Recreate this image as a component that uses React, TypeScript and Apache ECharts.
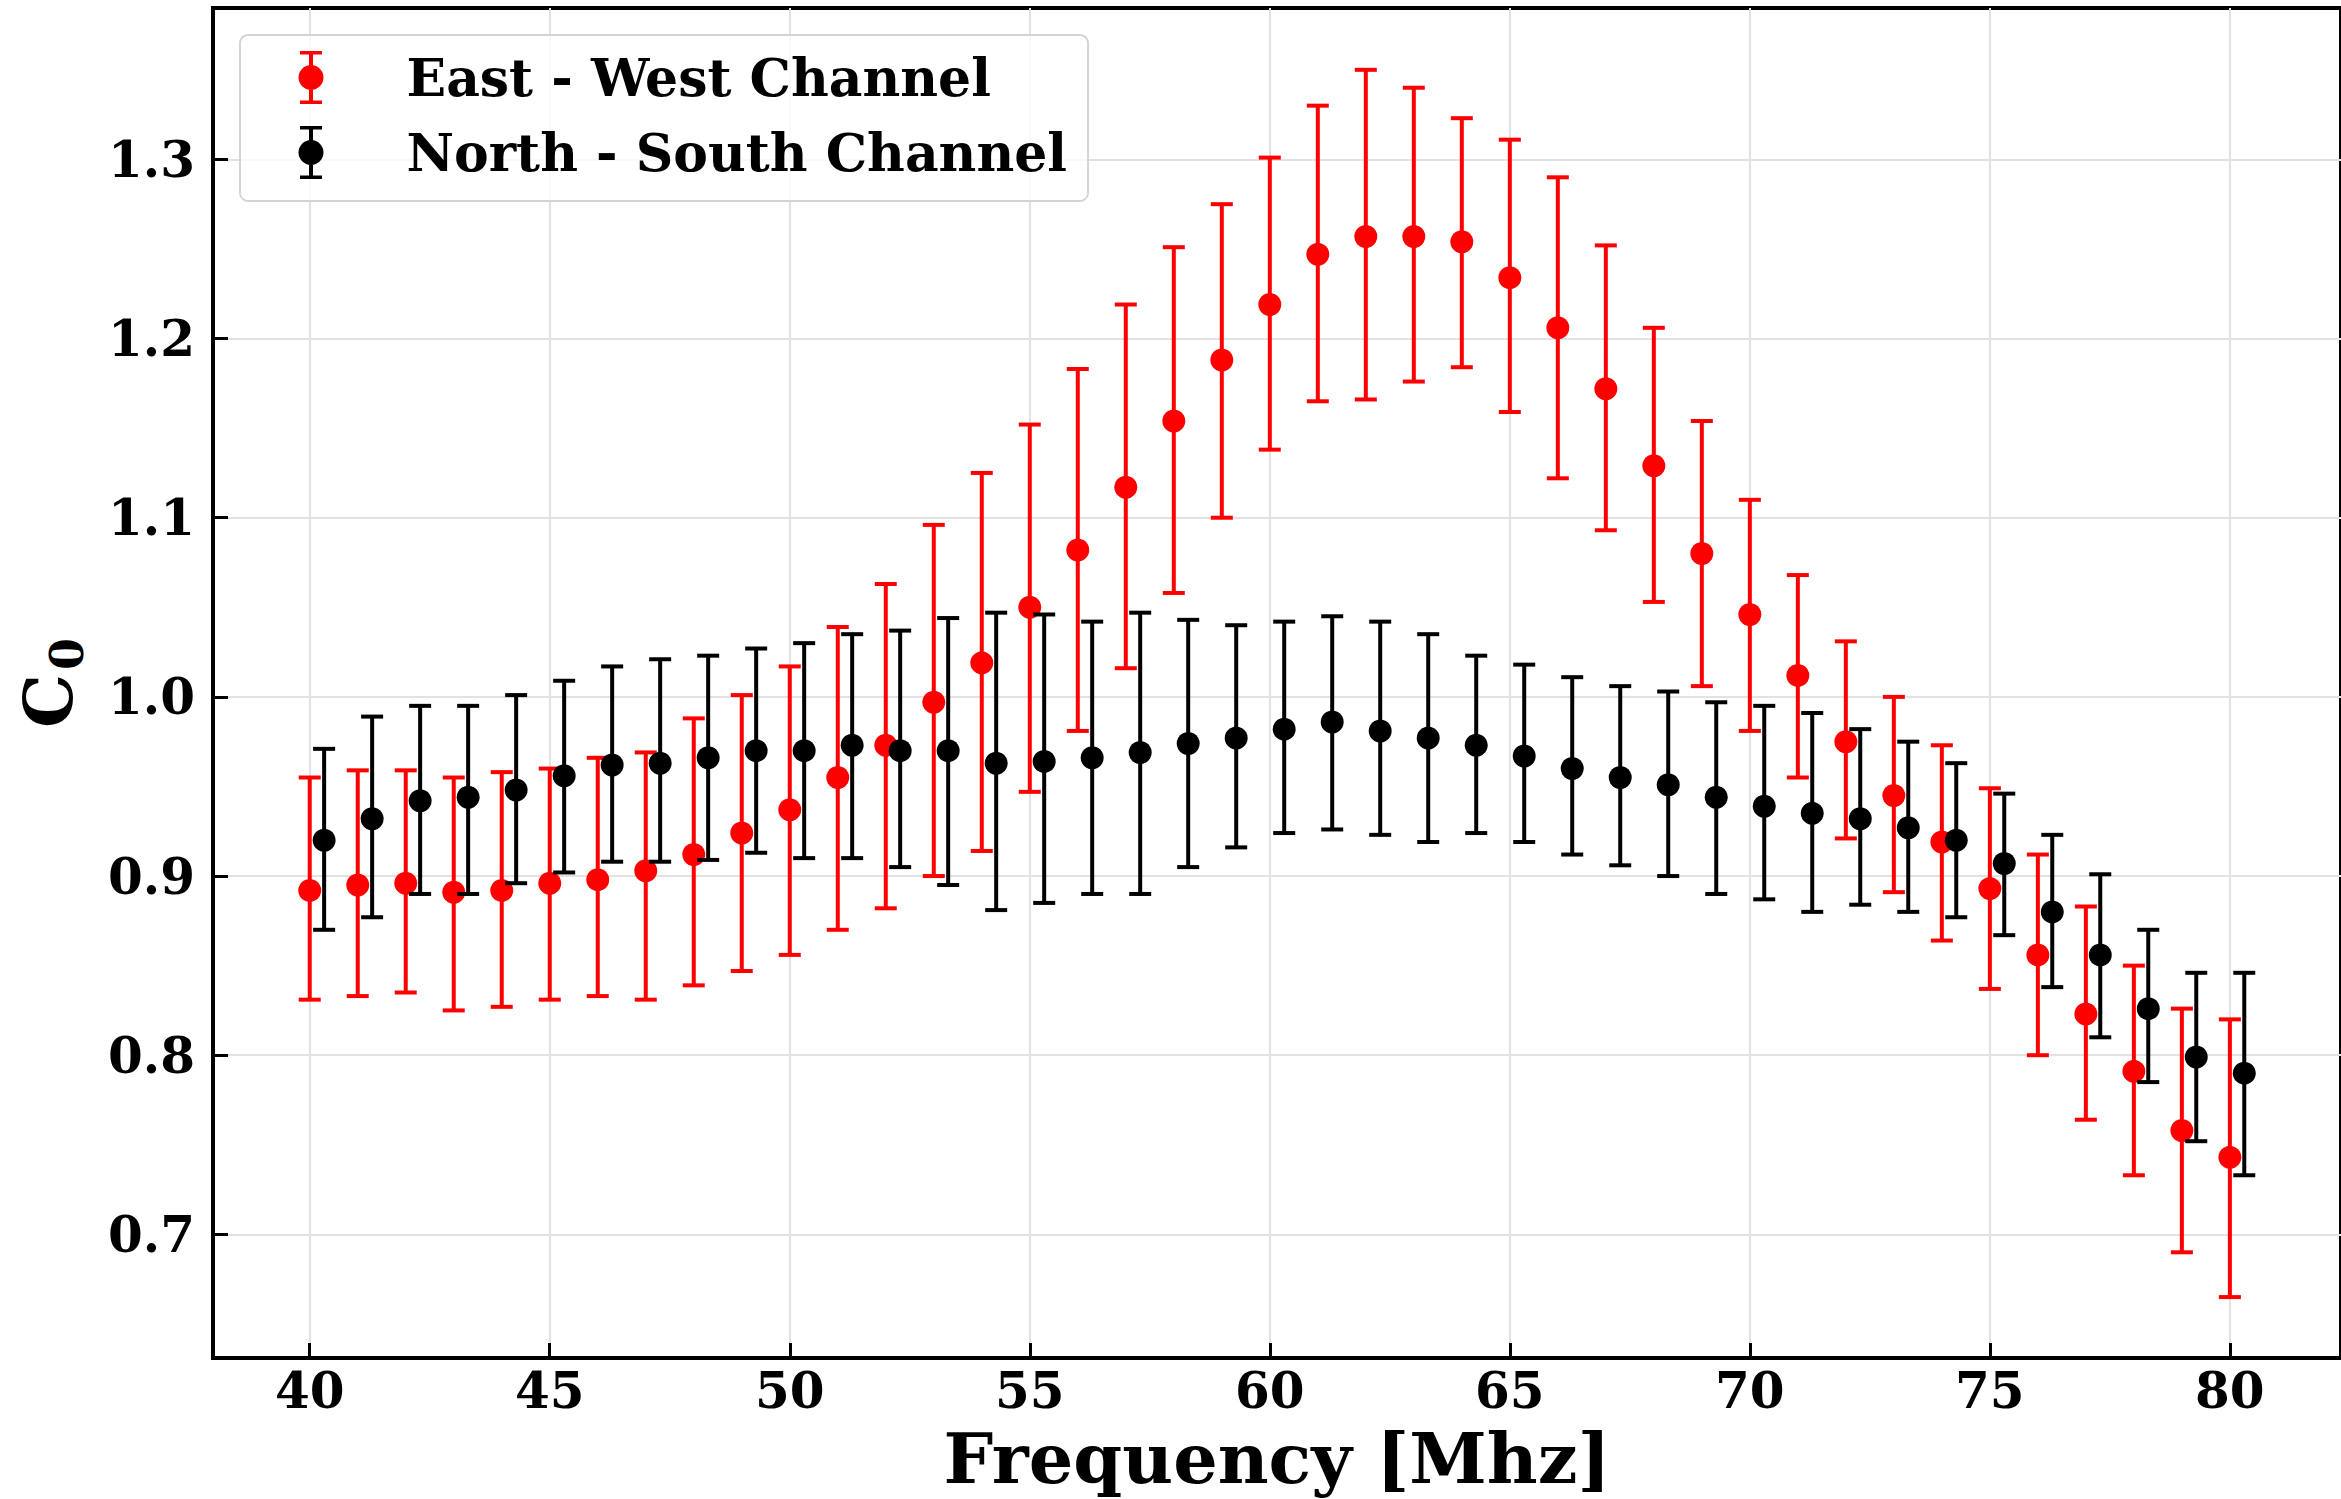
import React, { useEffect, useRef } from "react";
import * as echarts from "echarts";

// East - West channel (red), frequencies in MHz
const ewFreq = [40, 41, 42, 43, 44, 45, 46, 47, 48, 49, 50, 51, 52, 53, 54, 55, 56, 57, 58, 59, 60, 61, 62, 63, 64, 65, 66, 67, 68, 69, 70, 71, 72, 73, 74, 75, 76, 77, 78, 79, 80];
const ewValue = [0.892, 0.895, 0.896, 0.891, 0.892, 0.896, 0.898, 0.903, 0.912, 0.924, 0.937, 0.955, 0.973, 0.997, 1.019, 1.05, 1.082, 1.117, 1.154, 1.188, 1.219, 1.247, 1.257, 1.257, 1.254, 1.234, 1.206, 1.172, 1.129, 1.08, 1.046, 1.012, 0.975, 0.945, 0.919, 0.893, 0.856, 0.823, 0.791, 0.758, 0.743];
const ewUpper = [0.955, 0.959, 0.959, 0.955, 0.958, 0.96, 0.966, 0.969, 0.988, 1.001, 1.017, 1.039, 1.063, 1.096, 1.125, 1.152, 1.183, 1.219, 1.251, 1.275, 1.301, 1.33, 1.35, 1.34, 1.323, 1.311, 1.29, 1.252, 1.206, 1.154, 1.11, 1.068, 1.031, 1.0, 0.973, 0.949, 0.912, 0.883, 0.85, 0.826, 0.82];
const ewLower = [0.831, 0.833, 0.835, 0.825, 0.827, 0.831, 0.833, 0.831, 0.839, 0.847, 0.856, 0.87, 0.882, 0.9, 0.914, 0.947, 0.981, 1.016, 1.058, 1.1, 1.138, 1.165, 1.166, 1.176, 1.184, 1.159, 1.122, 1.093, 1.053, 1.006, 0.981, 0.955, 0.921, 0.891, 0.864, 0.837, 0.8, 0.764, 0.733, 0.69, 0.665];

// North - South channel (black), shifted by 0.3 MHz
const nsFreq = [40.3, 41.3, 42.3, 43.3, 44.3, 45.3, 46.3, 47.3, 48.3, 49.3, 50.3, 51.3, 52.3, 53.3, 54.3, 55.3, 56.3, 57.3, 58.3, 59.3, 60.3, 61.3, 62.3, 63.3, 64.3, 65.3, 66.3, 67.3, 68.3, 69.3, 70.3, 71.3, 72.3, 73.3, 74.3, 75.3, 76.3, 77.3, 78.3, 79.3, 80.3];
const nsValue = [0.92, 0.932, 0.942, 0.944, 0.948, 0.956, 0.962, 0.963, 0.966, 0.97, 0.97, 0.973, 0.97, 0.97, 0.963, 0.964, 0.966, 0.969, 0.974, 0.977, 0.982, 0.986, 0.981, 0.977, 0.973, 0.967, 0.96, 0.955, 0.951, 0.944, 0.939, 0.935, 0.932, 0.927, 0.92, 0.907, 0.88, 0.856, 0.826, 0.799, 0.79];
const nsUpper = [0.971, 0.989, 0.995, 0.995, 1.001, 1.009, 1.017, 1.021, 1.023, 1.027, 1.03, 1.035, 1.037, 1.044, 1.047, 1.046, 1.042, 1.047, 1.043, 1.04, 1.042, 1.045, 1.042, 1.035, 1.023, 1.018, 1.011, 1.006, 1.003, 0.997, 0.995, 0.991, 0.982, 0.975, 0.963, 0.946, 0.923, 0.901, 0.87, 0.846, 0.846];
const nsLower = [0.87, 0.877, 0.89, 0.89, 0.896, 0.902, 0.908, 0.908, 0.909, 0.913, 0.91, 0.91, 0.905, 0.895, 0.881, 0.885, 0.89, 0.89, 0.905, 0.916, 0.924, 0.926, 0.923, 0.919, 0.924, 0.919, 0.912, 0.906, 0.9, 0.89, 0.887, 0.88, 0.884, 0.88, 0.877, 0.867, 0.838, 0.81, 0.785, 0.752, 0.733];

const seriesNames = ["East - West Channel", "North - South Channel"];
const FONT = "DejaVu Serif";

const legendIcon =
  "path://M0 0H22V3.5H0Z M9 3.5H13V49.5H9Z M0 49.5H22V53H0Z M23.5 26.5A12.5 12.5 0 1 1 -1.5 26.5A12.5 12.5 0 1 1 23.5 26.5Z M101.49 26.5H101.5V26.51H101.49Z";

function errorBarRenderer(color: string) {
  return (params: any, api: any) => {
    const x = api.value(0);
    const lo = api.value(1);
    const hi = api.value(2);
    const pLo = api.coord([x, lo]);
    const pHi = api.coord([x, hi]);
    const hw = 11;
    const style = { stroke: color, lineWidth: 4 };
    return {
      type: "group",
      children: [
        { type: "line", shape: { x1: pLo[0], y1: pLo[1], x2: pHi[0], y2: pHi[1] }, style },
        { type: "line", shape: { x1: pHi[0] - hw, y1: pHi[1], x2: pHi[0] + hw, y2: pHi[1] }, style },
        { type: "line", shape: { x1: pLo[0] - hw, y1: pLo[1], x2: pLo[0] + hw, y2: pLo[1] }, style },
      ],
    };
  };
}

export default function App() {
  const ref = useRef<HTMLDivElement>(null);

  useEffect(() => {
    if (!ref.current) return;
    const chart = echarts.init(ref.current, null, { renderer: "svg" });

    const tickLabel = { fontFamily: FONT, fontWeight: "bold", fontSize: 50, color: "#000" };

    const option: any = {
      animation: false,
      backgroundColor: "#fff",
      grid: {
        left: 213,
        right: 0,
        top: 8,
        bottom: 141,
        show: true,
        borderColor: "#000",
        borderWidth: 4,
        backgroundColor: "transparent",
      },
      legend: {
        orient: "vertical",
        left: 240,
        top: 35,
        itemWidth: 103,
        itemHeight: 53,
        itemGap: 22,
        padding: [16, 21, 22, 58.5],
        backgroundColor: "rgba(255,255,255,0.8)",
        borderColor: "#d4d4d4",
        borderWidth: 2,
        borderRadius: 8,
        textStyle: { fontFamily: FONT, fontWeight: "bold", fontSize: 52, lineHeight: 53, color: "#000" },
        data: [
          { name: seriesNames[0], icon: legendIcon },
          { name: seriesNames[1], icon: legendIcon },
        ],
      },
      xAxis: {
        type: "value",
        min: 37.985,
        max: 82.315,
        splitNumber: 9,
        axisLine: { show: true, lineStyle: { color: "#000", width: 4 } },
        axisTick: { show: true, inside: true, length: 15, lineStyle: { color: "#000", width: 3 } },
        axisLabel: {
          ...tickLabel,
          margin: 7,
          showMinLabel: false,
          showMaxLabel: false,
          formatter: (v: number) =>
            Math.abs(v / 5 - Math.round(v / 5)) < 1e-6 ? String(Math.round(v)) : "",
        },
        splitLine: { show: true, showMinLine: false, showMaxLine: false, lineStyle: { color: "#e2e2e2", width: 2 } },
        name: "Frequency [Mhz]",
        nameLocation: "middle",
        nameGap: 65,
        nameTextStyle: { fontFamily: FONT, fontWeight: "bold", fontSize: 70, lineHeight: 70, color: "#000" },
      },
      yAxis: {
        type: "value",
        min: 0.631,
        max: 1.3845,
        splitNumber: 8,
        axisLine: { show: true, lineStyle: { color: "#000", width: 4 } },
        axisTick: { show: true, inside: true, length: 15, lineStyle: { color: "#000", width: 3 } },
        axisLabel: {
          ...tickLabel,
          margin: 18,
          showMinLabel: false,
          showMaxLabel: false,
          formatter: (v: number) =>
            Math.abs(v * 10 - Math.round(v * 10)) < 1e-6 ? v.toFixed(1) : "",
        },
        splitLine: { show: true, showMinLine: false, showMaxLine: false, lineStyle: { color: "#e2e2e2", width: 2 } },
        name: "{c|C}{s|0}",
        nameLocation: "middle",
        nameRotate: 90,
        nameGap: 131,
        nameTextStyle: {
          color: "#000",
          rich: {
            c: { fontFamily: FONT, fontWeight: "bold", fontSize: 68, lineHeight: 68, color: "#000", verticalAlign: "top" },
            s: { fontFamily: FONT, fontWeight: "bold", fontSize: 46, lineHeight: 46, color: "#000", verticalAlign: "top", padding: [30, 0, 0, 4] },
          },
        },
      },
      series: [
        {
          name: "ew-errors",
          type: "custom",
          renderItem: errorBarRenderer("#ff0000"),
          encode: { x: 0, y: [1, 2] },
          data: ewFreq.map((f, i) => [f, ewLower[i], ewUpper[i]]),
          z: 2,
        },
        {
          name: seriesNames[0],
          type: "scatter",
          symbol: "circle",
          symbolSize: 23,
          itemStyle: { color: "#ff0000", opacity: 1 },
          data: ewFreq.map((f, i) => [f, ewValue[i]]),
          z: 2,
        },
        {
          name: "ns-errors",
          type: "custom",
          renderItem: errorBarRenderer("#000000"),
          encode: { x: 0, y: [1, 2] },
          data: nsFreq.map((f, i) => [f, nsLower[i], nsUpper[i]]),
          z: 3,
        },
        {
          name: seriesNames[1],
          type: "scatter",
          symbol: "circle",
          symbolSize: 23,
          itemStyle: { color: "#000000", opacity: 1 },
          data: nsFreq.map((f, i) => [f, nsValue[i]]),
          z: 3,
        },
      ],
    };

    chart.setOption(option);
    return () => chart.dispose();
  }, []);

  return (
    <div
      ref={ref}
      style={{ position: "fixed", left: 0, top: 0, width: 2341, height: 1499, background: "#fff" }}
    />
  );
}
